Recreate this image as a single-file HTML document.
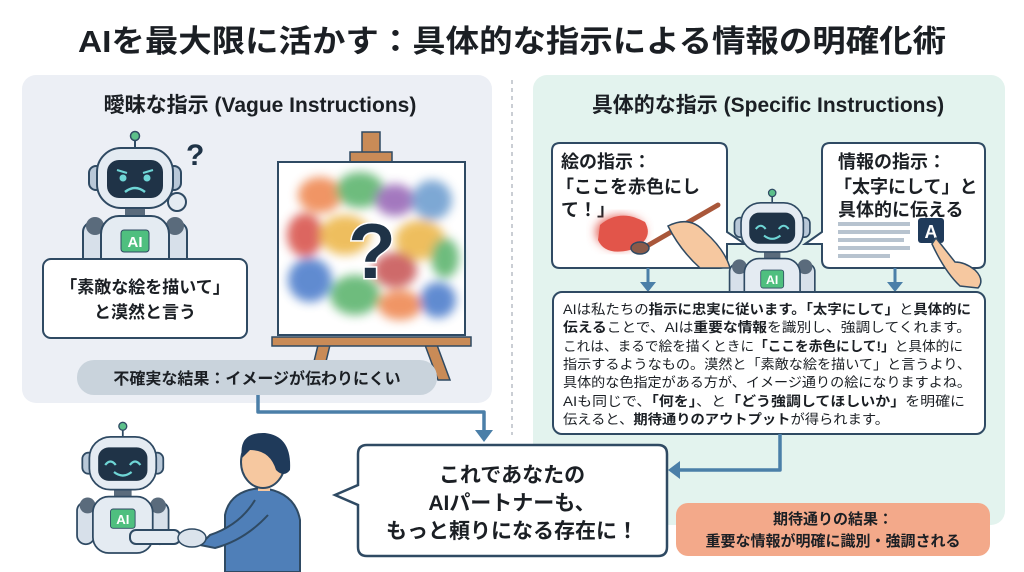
<!DOCTYPE html>
<html><head><meta charset="utf-8">
<style>
html,body{margin:0;padding:0;background:#fff;}
svg{display:block;}
text{font-family:"Liberation Sans","Noto Sans CJK JP",sans-serif;font-weight:bold;fill:#1b1f24;}
text.n{font-weight:normal;}
tspan.b{font-weight:bold;}
</style></head>
<body>
<svg width="1024" height="572" viewBox="0 0 1024 572" xmlns="http://www.w3.org/2000/svg">
<defs>
<filter id="blur" x="-20%" y="-20%" width="140%" height="140%"><feGaussianBlur stdDeviation="5"/></filter>
<g id="robot">
  <line x1="60" y1="6" x2="60" y2="20" stroke="#2f4a63" stroke-width="2"/>
  <circle cx="60" cy="6" r="4.5" fill="#5cc08a" stroke="#2f4a63" stroke-width="1.5"/>
  <rect x="14" y="36" width="14" height="24" rx="7" fill="#b8c8d8" stroke="#2f4a63" stroke-width="2"/>
  <rect x="92" y="36" width="14" height="24" rx="7" fill="#b8c8d8" stroke="#2f4a63" stroke-width="2"/>
  <rect x="50" y="76" width="20" height="12" fill="#5a6b7c"/>
  <rect x="8" y="92" width="20" height="48" rx="10" fill="#d7e0ea" stroke="#2f4a63" stroke-width="2"/>
  <rect x="92" y="92" width="20" height="48" rx="10" fill="#d7e0ea" stroke="#2f4a63" stroke-width="2"/>
  <circle cx="20" cy="96" r="9" fill="#5a6b7c"/>
  <circle cx="100" cy="96" r="9" fill="#5a6b7c"/>
  <rect x="26" y="86" width="68" height="64" rx="18" fill="#e4ebf2" stroke="#2f4a63" stroke-width="2"/>
  <rect x="46" y="100" width="28" height="22" rx="3" fill="#4fbf7f" stroke="#2f4a63" stroke-width="1"/>
  <text x="60" y="117" font-size="15" text-anchor="middle" style="fill:#fff">AI</text>
  <rect x="22" y="18" width="76" height="60" rx="24" fill="#e4ebf2" stroke="#2f4a63" stroke-width="2"/>
  <rect x="32" y="30" width="56" height="38" rx="12" fill="#1f3347"/>
</g>
</defs>

<text x="512" y="52" font-size="31" text-anchor="middle" textLength="868" lengthAdjust="spacingAndGlyphs">AIを最大限に活かす：具体的な指示による情報の明確化術</text>

<rect x="22" y="75" width="470" height="328" rx="14" fill="#eceff5"/>
<rect x="533" y="75" width="472" height="450" rx="14" fill="#e3f3ee"/>
<line x1="512" y1="80" x2="512" y2="435" stroke="#b8bec6" stroke-width="1.5" stroke-dasharray="4 4"/>

<text x="260" y="112" font-size="21" text-anchor="middle">曖昧な指示 (Vague Instructions)</text>
<text x="768" y="112" font-size="21" text-anchor="middle">具体的な指示 (Specific Instructions)</text>

<g transform="translate(75,130)">
  <use href="#robot"/>
  <circle cx="48" cy="48" r="3.5" fill="#6fd6d6"/><circle cx="72" cy="48" r="3.5" fill="#6fd6d6"/>
  <path d="M42 40 L52 43 M78 40 L68 43" stroke="#6fd6d6" stroke-width="2"/>
  <path d="M50 62 Q60 54 70 62" stroke="#6fd6d6" stroke-width="2.5" fill="none"/>
  <circle cx="102" cy="72" r="9" fill="#e4ebf2" stroke="#2f4a63" stroke-width="2"/>
</g>
<text x="186" y="165" font-size="30" style="fill:#1f3347">?</text>

<rect x="362" y="132" width="18" height="32" fill="#c98b57" stroke="#2f4a63" stroke-width="1.5"/>
<rect x="350" y="152" width="42" height="12" fill="#c98b57" stroke="#2f4a63" stroke-width="1.5"/>
<path d="M318 345 L310 378 L322 378 L330 345 Z M425 345 L438 380 L450 380 L437 345 Z" fill="#c98b57" stroke="#2f4a63" stroke-width="1.5"/>
<rect x="278" y="162" width="187" height="173" fill="#fff" stroke="#2f4a63" stroke-width="2"/>
<g filter="url(#blur)" opacity="0.9">
  <ellipse cx="320" cy="195" rx="22" ry="18" fill="#ef8a55"/>
  <ellipse cx="360" cy="190" rx="24" ry="18" fill="#5fb56f"/>
  <ellipse cx="395" cy="200" rx="20" ry="16" fill="#9a6bb8"/>
  <ellipse cx="432" cy="200" rx="20" ry="20" fill="#6f9fd0"/>
  <ellipse cx="305" cy="235" rx="18" ry="22" fill="#d9574f"/>
  <ellipse cx="345" cy="235" rx="25" ry="20" fill="#edb84e"/>
  <ellipse cx="420" cy="240" rx="25" ry="20" fill="#edb84e"/>
  <ellipse cx="445" cy="258" rx="14" ry="20" fill="#5fb56f"/>
  <ellipse cx="310" cy="280" rx="22" ry="22" fill="#4f7fcc"/>
  <ellipse cx="355" cy="295" rx="25" ry="20" fill="#5fb56f"/>
  <ellipse cx="395" cy="270" rx="22" ry="18" fill="#c95a5a"/>
  <ellipse cx="400" cy="305" rx="22" ry="15" fill="#ef8a55"/>
  <ellipse cx="438" cy="300" rx="18" ry="18" fill="#4f7fcc"/>
</g>
<text x="372" y="278" font-size="78" text-anchor="middle" style="fill:#1f3347;stroke:#fff;stroke-width:3;paint-order:stroke">?</text>
<rect x="272" y="337" width="199" height="9" fill="#c98b57" stroke="#2f4a63" stroke-width="1.5"/>

<rect x="43" y="259" width="204" height="79" rx="8" fill="#fff" stroke="#2f4a63" stroke-width="2"/>
<text x="145" y="293" font-size="17" text-anchor="middle">「素敵な絵を描いて」</text>
<text x="145" y="318" font-size="17" text-anchor="middle">と漠然と言う</text>

<rect x="77" y="360" width="360" height="35" rx="17" fill="#c9d3dc"/>
<text x="257" y="384" font-size="16" text-anchor="middle">不確実な結果：イメージが伝わりにくい</text>

<path d="M560 143 H719 Q727 143 727 151 V232 L745 244 L727 244 V260 Q727 268 719 268 H560 Q552 268 552 260 V151 Q552 143 560 143 Z" fill="#fff" stroke="#2f4a63" stroke-width="2"/>
<text x="561" y="168" font-size="18">絵の指示：</text>
<text x="556" y="193" font-size="18">「ここを赤色にし</text>
<text x="561" y="216" font-size="18">て！」</text>
<g filter="url(#blur)"><ellipse cx="620" cy="232" rx="24" ry="16" fill="#e2554a"/></g>
<path d="M600 225 Q620 208 645 222 Q655 240 630 250 Q605 256 598 240 Z" fill="#e2554a"/>
<line x1="640" y1="250" x2="718" y2="205" stroke="#a9573a" stroke-width="5" stroke-linecap="round"/>
<ellipse cx="640" cy="248" rx="9" ry="6" fill="#8b5a48" stroke="#2f4a63" stroke-width="1.5"/>
<path d="M668 226 Q690 215 705 232 Q725 250 730 268 L700 268 Q680 250 668 226 Z" fill="#f6c8a0" stroke="#2f4a63" stroke-width="1.5"/>

<path d="M830 143 H977 Q985 143 985 151 V260 Q985 268 977 268 H830 Q822 268 822 260 V244 L805 244 L822 232 V151 Q822 143 830 143 Z" fill="#fff" stroke="#2f4a63" stroke-width="2"/>
<text x="838" y="168" font-size="18">情報の指示：</text>
<text x="834" y="193" font-size="18">「太字にして」と</text>
<text x="838" y="216" font-size="18">具体的に伝える</text>
<g fill="#b7c3cf"><rect x="838" y="222" width="72" height="4"/><rect x="838" y="230" width="72" height="4"/><rect x="838" y="238" width="66" height="4"/><rect x="838" y="246" width="72" height="4"/><rect x="838" y="254" width="52" height="4"/></g>
<rect x="918" y="218" width="26" height="25" rx="3" fill="#1f3a5a"/>
<text x="931" y="238" font-size="18" text-anchor="middle" style="fill:#fff">A</text>
<path d="M936 238 L955 262 Q965 262 975 270 Q985 280 978 288 L960 286 Q945 272 932 244 Z" fill="#f6c8a0" stroke="#2f4a63" stroke-width="1.5"/>

<g transform="translate(723,188) scale(0.82)">
  <use href="#robot"/>
  <path d="M40 50 Q46 42 52 50 M68 50 Q74 42 80 50" stroke="#6fd6d6" stroke-width="2.5" fill="none"/>
  <path d="M50 58 Q60 66 70 58" stroke="#6fd6d6" stroke-width="2.5" fill="none"/>
</g>

<g stroke="#4b7fa8" stroke-width="3" fill="#4b7fa8">
<line x1="648" y1="268" x2="648" y2="284"/><path d="M640 282 L656 282 L648 292 Z" stroke="none"/>
<line x1="895" y1="268" x2="895" y2="284"/><path d="M887 282 L903 282 L895 292 Z" stroke="none"/>
</g>

<rect x="553" y="292" width="432" height="142" rx="9" fill="#fff" stroke="#2f4a63" stroke-width="2"/>
<g font-size="13.5">
<text class="n" x="563" y="314" textLength="408" lengthAdjust="spacingAndGlyphs">AIは私たちの<tspan class="b">指示に忠実に従います。「太字にして」</tspan>と<tspan class="b">具体的に</tspan></text>
<text class="n" x="563" y="332" textLength="408" lengthAdjust="spacingAndGlyphs"><tspan class="b">伝える</tspan>ことで、AIは<tspan class="b">重要な情報</tspan>を識別し、強調してくれます。</text>
<text class="n" x="563" y="351" textLength="400" lengthAdjust="spacingAndGlyphs">これは、まるで絵を描くときに<tspan class="b">「ここを赤色にして!」</tspan>と具体的に</text>
<text class="n" x="563" y="369" textLength="408" lengthAdjust="spacingAndGlyphs">指示するようなもの。漠然と「素敵な絵を描いて」と言うより、</text>
<text class="n" x="563" y="387" textLength="408" lengthAdjust="spacingAndGlyphs">具体的な色指定がある方が、イメージ通りの絵になりますよね。</text>
<text class="n" x="563" y="406" textLength="402" lengthAdjust="spacingAndGlyphs">AIも同じで、<tspan class="b">「何を」</tspan>、と<tspan class="b">「どう強調してほしいか」</tspan>を明確に</text>
<text class="n" x="563" y="424" textLength="326" lengthAdjust="spacingAndGlyphs">伝えると、<tspan class="b">期待通りのアウトプット</tspan>が得られます。</text>
</g>

<g stroke="#4b7fa8" stroke-width="3.5" fill="none" stroke-linejoin="round">
<path d="M258 395 V412 H484 V432"/>
<path d="M780 434 V470 H678"/>
</g>
<path d="M475 430 L493 430 L484 442 Z" fill="#4b7fa8"/>
<path d="M680 461 L680 479 L668 470 Z" fill="#4b7fa8"/>

<path d="M367 445 H658 Q667 445 667 454 V547 Q667 556 658 556 H367 Q358 556 358 547 V505 L335 495 L358 485 V454 Q358 445 367 445 Z" fill="#fff" stroke="#2f4a63" stroke-width="2.5"/>
<text x="512" y="482" font-size="21" text-anchor="middle">これであなたの</text>
<text x="512" y="510" font-size="21" text-anchor="middle">AIパートナーも、</text>
<text x="512" y="538" font-size="21" text-anchor="middle">もっと頼りになる存在に！</text>

<rect x="676" y="503" width="314" height="53" rx="12" fill="#f3a98a"/>
<text x="833" y="524" font-size="15" text-anchor="middle">期待通りの結果：</text>
<text x="833" y="546" font-size="15" text-anchor="middle">重要な情報が明確に識別・強調される</text>

<path d="M225 572 V515 Q230 490 262 488 Q295 492 300 520 V572 Z" fill="#4f7fb8" stroke="#2f4a63" stroke-width="2"/>
<path d="M255 500 Q240 525 210 535 L200 545 L215 548 Q245 540 268 515" fill="#4f7fb8" stroke="#2f4a63" stroke-width="2"/>
<rect x="258" y="475" width="12" height="16" fill="#f6c8a0"/>
<ellipse cx="263" cy="462" rx="22" ry="26" fill="#f6c8a0" stroke="#2f4a63" stroke-width="2"/>
<path d="M242 458 Q238 432 265 433 Q292 436 290 470 Q284 478 276 470 Q270 450 250 450 Z" fill="#1f3a5a"/>
<g transform="translate(70,421) scale(0.88)">
  <use href="#robot"/>
  <path d="M40 50 Q46 42 52 50 M68 50 Q74 42 80 50" stroke="#6fd6d6" stroke-width="2.5" fill="none"/>
  <path d="M50 58 Q60 66 70 58" stroke="#6fd6d6" stroke-width="2.5" fill="none"/>
</g>
<rect x="130" y="530" width="50" height="14" rx="6" fill="#e4ebf2" stroke="#2f4a63" stroke-width="2"/>
<ellipse cx="192" cy="538" rx="14" ry="9" fill="#dbe3ec" stroke="#2f4a63" stroke-width="1.5"/>
</svg>
</body></html>
